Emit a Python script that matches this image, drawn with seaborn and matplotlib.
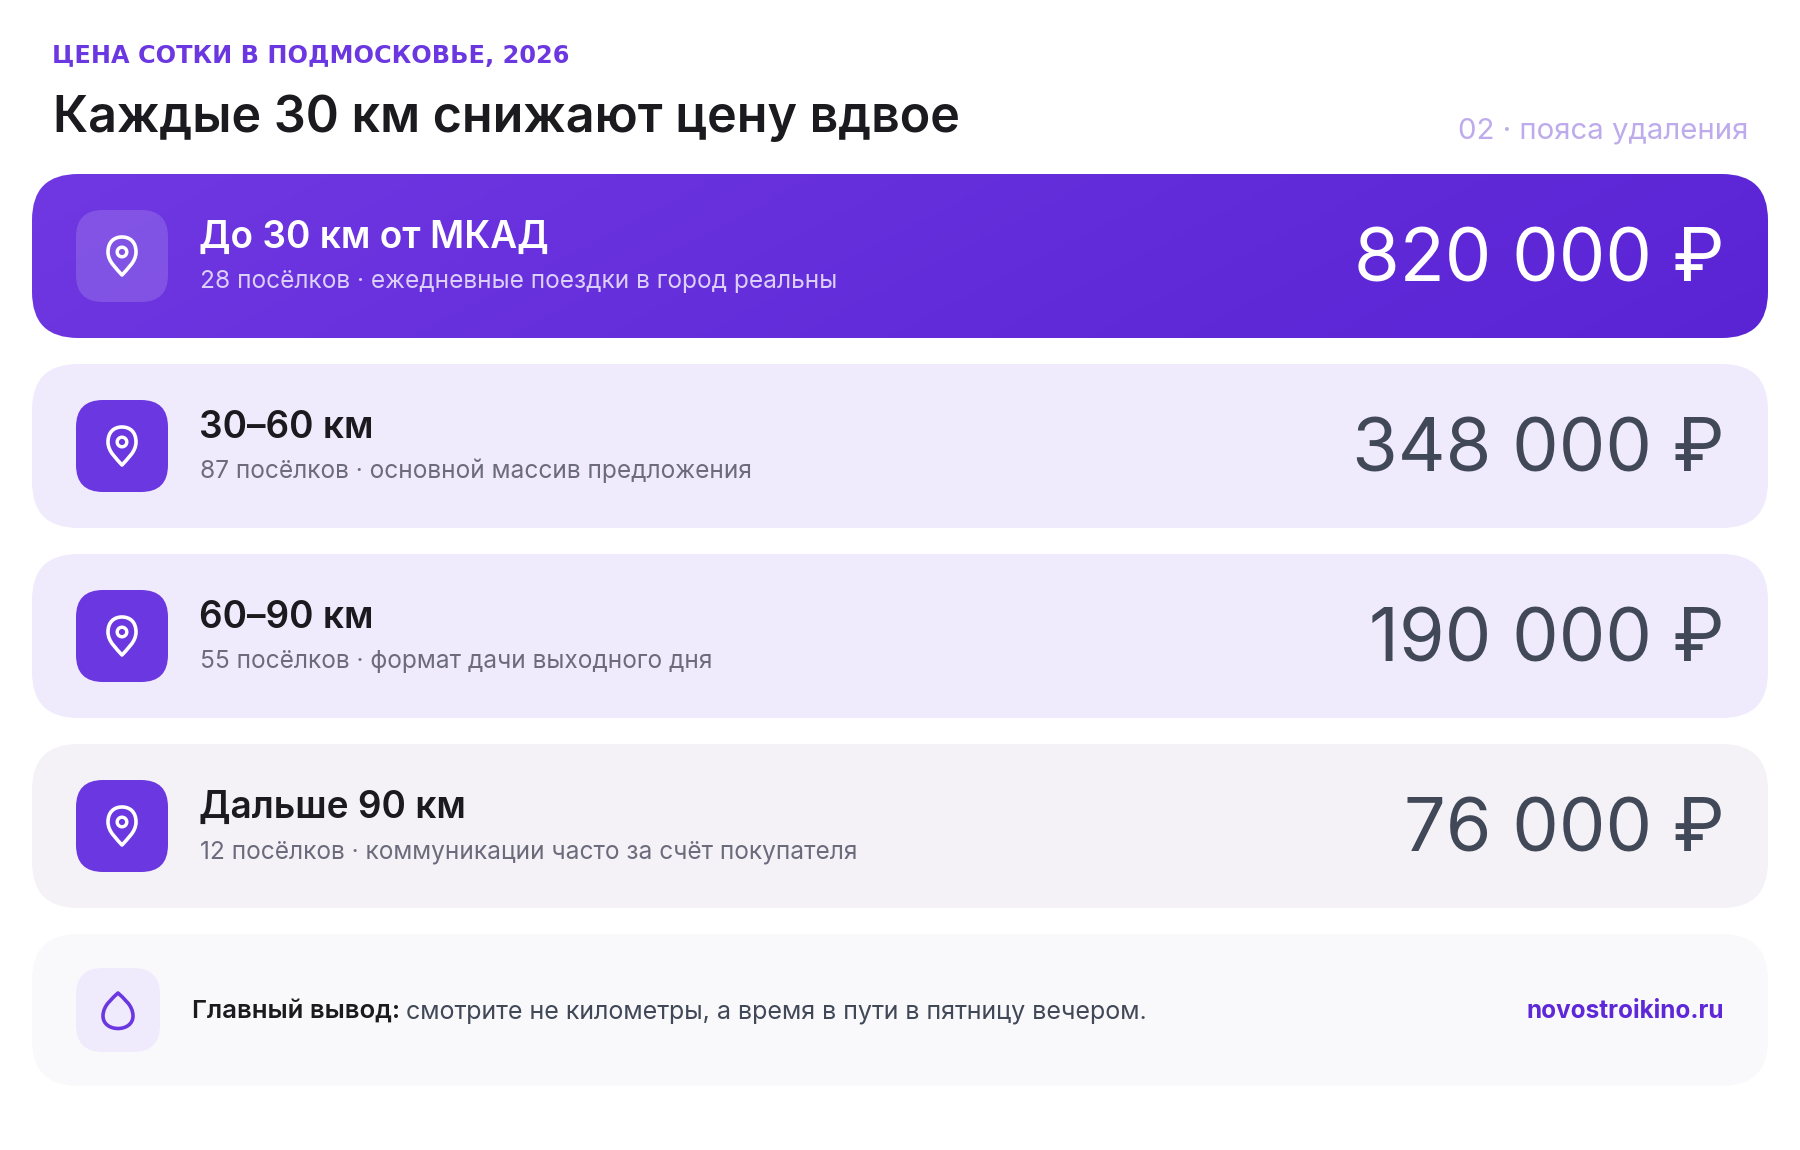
import numpy as np
import matplotlib.pyplot as plt
import seaborn as sns
from matplotlib.patches import FancyBboxPatch, PathPatch, Circle
from matplotlib.path import Path

eyebrow = "ЦЕНА СОТКИ В ПОДМОСКОВЬЕ, 2026"
title = "Каждые 30 км снижают цену вдвое"
side_note = "02 · пояса удаления"

zones = ["До 30 км от МКАД", "30–60 км", "60–90 км", "Дальше 90 км"]
villages = [28, 87, 55, 12]
notes = ["ежедневные поездки в город реальны", "основной массив предложения",
         "формат дачи выходного дня", "коммуникации часто за счёт покупателя"]
prices = [820000, 348000, 190000, 76000]
card_colors = [None, "#F0EAFD", "#F0EAFD", "#F4F2F7"]

takeaway_bold = "Главный вывод:"
takeaway = "смотрите не километры, а время в пути в пятницу вечером."
site = "novostroikino.ru"

sns.set_theme(style="white")
plt.rcParams["font.family"] = ["Inter", "DejaVu Sans"]

PX = 0.72  # px to pt at dpi 100
PURPLE = "#6B37E0"

fig = plt.figure(figsize=(18, 11.5), dpi=100, facecolor="white")
ax = fig.add_axes([0, 0, 1, 1])
ax.set_xlim(0, 1800)
ax.set_ylim(1150, 0)
ax.axis("off")


def card(x, y, w, h, r, color, z=1, alpha=None):
    p = FancyBboxPatch((x, y), w, h, boxstyle=f"round,pad=0,rounding_size={r}",
                       fc=color, ec="none", zorder=z, alpha=alpha)
    ax.add_patch(p)
    return p


def pin(cx, cy, color):
    # head centre is 4px above the card middle
    top = cy - 19
    bot = cy + 19
    hy = cy - 4
    verts = [(cx, bot),
             (cx - 5, bot - 6), (cx - 14, bot - 13), (cx - 14, hy),
             (cx - 14, hy - 10), (cx - 8, top), (cx, top),
             (cx + 8, top), (cx + 14, hy - 10), (cx + 14, hy),
             (cx + 14, bot - 13), (cx + 5, bot - 6), (cx, bot),
             (cx, bot)]
    codes = [Path.MOVETO] + [Path.CURVE4] * 12 + [Path.CLOSEPOLY]
    ax.add_patch(PathPatch(Path(verts, codes), fc="none", ec=color, lw=3.6 * PX, zorder=4,
                           joinstyle="round"))
    ax.add_patch(Circle((cx, hy), 4.8, fc="none", ec=color, lw=3.4 * PX, zorder=4))


def drop(cx, cy, color):
    verts = [(cx, cy - 18),
             (cx + 5, cy - 13), (cx + 15, cy - 6), (cx + 15, cy + 5),
             (cx + 15, cy + 13), (cx + 8, cy + 17.5), (cx, cy + 17.5),
             (cx - 8, cy + 17.5), (cx - 15, cy + 13), (cx - 15, cy + 5),
             (cx - 15, cy - 6), (cx - 5, cy - 13), (cx, cy - 18),
             (cx, cy - 18)]
    codes = [Path.MOVETO] + [Path.CURVE4] * 12 + [Path.CLOSEPOLY]
    ax.add_patch(PathPatch(Path(verts, codes), fc="none", ec=color, lw=3.6 * PX, zorder=4,
                           joinstyle="round"))


# header
ax.text(52, 63, eyebrow, fontsize=24 * PX, fontweight="bold", color=PURPLE, va="baseline",
        family=["DejaVu Sans"])
ax.text(53, 132, title, fontsize=50.2 * PX, fontweight="semibold", color="#1B1B1F", va="baseline")
ax.text(1748, 139, side_note, fontsize=29.4 * PX, color="#BDABEC", va="baseline", ha="right")

# zone cards
for i in range(4):
    y = 174 + 190 * i
    mid = y + 82
    first = i == 0
    if first:
        p = card(32, y, 1736, 164, 46, "none")
        xx, yy = np.meshgrid(np.linspace(0, 1, 300), np.linspace(0, 1, 40))
        cmap = sns.blend_palette(["#6F38E2", "#5A23D4"], 64, as_cmap=True)
        im = ax.imshow(0.85 * xx + 0.15 * yy, cmap=cmap, extent=(32, 1768, y + 164, y), aspect="auto",
                       zorder=1)
        im.set_clip_path(p)
        ax.set_xlim(0, 1800)
        ax.set_ylim(1150, 0)
        card(76, mid - 46, 92, 92, 27, "#FFFFFF", z=2, alpha=0.15)
    else:
        card(32, y, 1736, 164, 46, card_colors[i])
        card(76, mid - 46, 92, 92, 27, PURPLE, z=2)
    pin(122, mid, "white")
    ax.text(199, y + 74, zones[i], fontsize=37 * PX, fontweight="semibold",
            color="white" if first else "#1B1B1F", va="baseline")
    ax.text(200, y + 114, f"{villages[i]} посёлков · {notes[i]}", fontsize=24.5 * PX,
            color="#DCCFFA" if first else "#6C6B7C", va="baseline")
    label = f"{prices[i]:,}".replace(",", " ") + " ₽"
    ax.text(1725, y + 108, label, fontsize=74 * PX,
            color="white" if first else "#414857", va="baseline", ha="right")

# footer
card(32, 934, 1736, 152, 46, "#F9F9FB")
card(76, 968, 84, 84, 27, "#F0EAFD", z=2)
drop(118, 1011, PURPLE)
ax.text(192, 1018, takeaway_bold, fontsize=25.7 * PX, fontweight="semibold", color="#1B1B1F", va="baseline")
ax.text(406, 1018, takeaway, fontsize=25.1 * PX, color="#414857", va="baseline")
ax.text(1724, 1018, site, fontsize=24.3 * PX, fontweight="bold", color="#5E27D8", va="baseline", ha="right")

fig.savefig("out.png", dpi=100, facecolor="white")
